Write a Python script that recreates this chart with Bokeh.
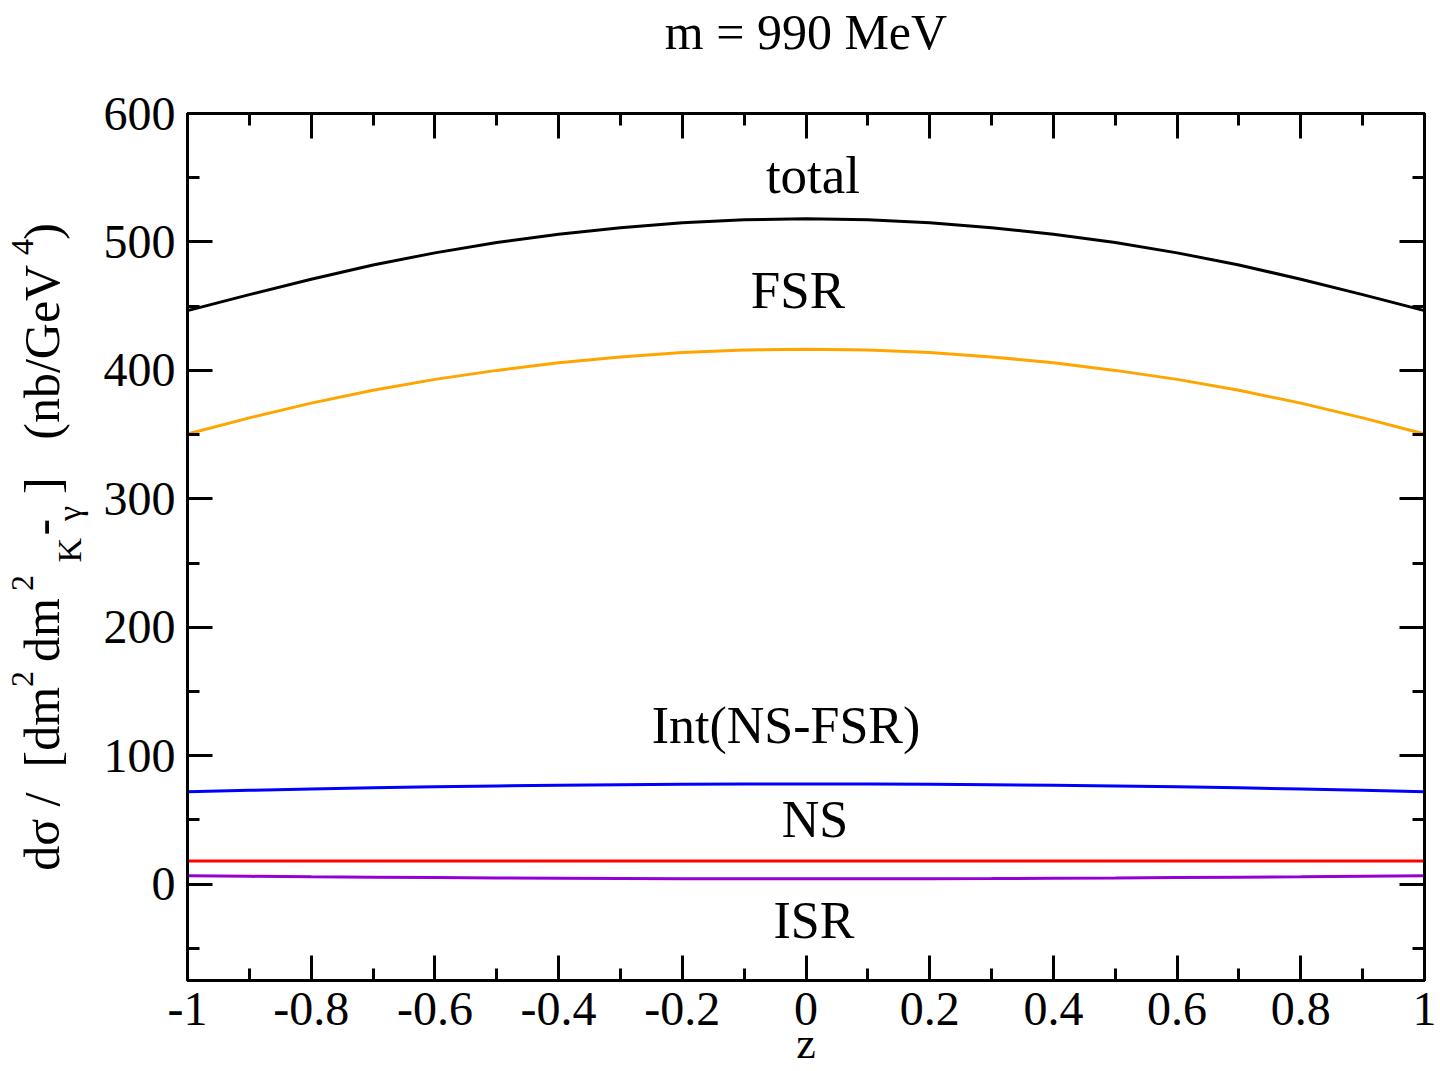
from bokeh.plotting import figure
from bokeh.models import (ColumnDataSource, Range1d, LinearAxis, FixedTicker,
                          CustomJSTickFormatter, Label)
from bokeh.embed import file_html
from bokeh.resources import INLINE

# --- data: differential cross section vs z, m = 990 MeV ---
z = [-1.0, -0.9, -0.8, -0.7, -0.6, -0.5, -0.4, -0.3, -0.2, -0.1, 0.0,
     0.1, 0.2, 0.3, 0.4, 0.5, 0.6, 0.7, 0.8, 0.9, 1.0]
total = [446.5, 459.0, 471.0, 482.0, 491.5, 499.5, 506.0, 511.0, 515.0, 517.3, 518.0,
         517.3, 515.0, 511.0, 506.0, 499.5, 491.5, 482.0, 471.0, 459.0, 446.5]
fsr = [350.5, 363.0, 374.5, 384.5, 393.0, 400.0, 406.0, 410.5, 414.0, 415.8, 416.5,
       415.8, 414.0, 410.5, 406.0, 400.0, 393.0, 384.5, 374.5, 363.0, 350.5]
interference = [72.0, 73.1, 74.1, 75.0, 75.8, 76.5, 77.0, 77.4, 77.7, 77.9, 78.0,
                77.9, 77.7, 77.4, 77.0, 76.5, 75.8, 75.0, 74.1, 73.1, 72.0]
ns = [18.0] * 21
isr = [6.5, 6.1, 5.7, 5.4, 5.1, 4.8, 4.6, 4.4, 4.3, 4.2, 4.2,
       4.2, 4.3, 4.4, 4.6, 4.8, 5.1, 5.4, 5.7, 6.1, 6.5]

x_major = [-1.0, -0.8, -0.6, -0.4, -0.2, 0.0, 0.2, 0.4, 0.6, 0.8, 1.0]
x_minor = [-0.9, -0.7, -0.5, -0.3, -0.1, 0.1, 0.3, 0.5, 0.7, 0.9]
y_major = [0, 100, 200, 300, 400, 500, 600]
y_minor = [-50, 50, 150, 250, 350, 450, 550]

FONT = "Liberation Serif"
W, H = 1440, 1071
LEFT, RIGHT, TOP, BOTTOM = 186, 1424, 113, 980
X0, X1, Y0, Y1 = -1.0, 1.0, -75.0, 600.0
SHIFT = 18  # baseline correction for in-frame Label text

p = figure(width=W, height=H, output_backend="svg", toolbar_location=None,
           x_range=Range1d(X0, X1), y_range=Range1d(Y0, Y1),
           x_axis_location=None, y_axis_location=None,
           min_border_left=LEFT, min_border_right=W - RIGHT,
           min_border_top=TOP, min_border_bottom=H - BOTTOM)
p.xgrid.visible = False
p.ygrid.visible = False
p.outline_line_color = "black"
p.outline_line_width = 3
p.background_fill_color = "white"
p.border_fill_color = "white"
p.title.text = ""

x_fmt = CustomJSTickFormatter(code="""
    if (Math.abs(tick) < 1e-9) return "0";
    return tick.toFixed(1).replace(/\\.0$/, "");
""")
y_fmt = CustomJSTickFormatter(code="return tick.toFixed(0);")
blank = CustomJSTickFormatter(code="return '';")


def make_axis(ticker, fmt, show_labels):
    ax = LinearAxis(ticker=ticker, formatter=fmt)
    ax.axis_line_width = 3
    ax.major_tick_line_width = 3
    ax.minor_tick_line_width = 3
    ax.major_tick_in = 25
    ax.major_tick_out = 0
    ax.minor_tick_in = 12
    ax.minor_tick_out = 0
    ax.major_label_text_font = FONT
    ax.major_label_text_font_size = "48px" if show_labels else "0px"
    ax.major_label_text_color = "black"
    ax.major_label_standoff = 12 if show_labels else 0
    ax.axis_label_text_font = FONT
    ax.axis_label_text_font_style = "normal"
    ax.axis_label_text_color = "black"
    return ax


def label_row(text, size, standoff):
    # tickless left axis that only carries one row of the y label
    ax = LinearAxis(ticker=FixedTicker(ticks=[]), formatter=blank)
    ax.axis_line_color = None
    ax.major_tick_line_color = None
    ax.minor_tick_line_color = None
    ax.major_tick_in = ax.major_tick_out = 0
    ax.minor_tick_in = ax.minor_tick_out = 0
    ax.major_label_text_font_size = "0px"
    ax.major_label_standoff = 0
    ax.axis_label = text
    ax.axis_label_text_font = FONT
    ax.axis_label_text_font_style = "normal"
    ax.axis_label_text_font_size = f"{size}px"
    ax.axis_label_text_color = "black"
    ax.axis_label_standoff = standoff
    return ax


# advance widths (em) used to space the pieces of the y label
ADV = {"d": .5, "\u03c3": .55, " ": .25, "/": .278, "[": .333, "]": .333, "m": .778,
       "(": .333, ")": .333, "n": .5, "b": .5, "G": .722, "e": .444, "V": .722,
       "2": .5, "4": .5, "K": .722, "-": .333, "\u03b3": .45}
SPAN = 647  # length of the y label along the axis, px


def spaced(pieces, size):
    out, cur, nb = "", 0.0, 0.25 * size
    for s, u in pieces:
        n = max(0, round((u - cur) / nb))
        out += "\u00a0" * n
        cur += n * nb
        out += s
        cur += sum(ADV.get(c, .5) for c in s) * size
    out += "\u00a0" * max(0, round((SPAN - cur) / nb))
    return out


main_row = spaced([("d\u03c3", 0), ("/", 64), ("[dm", 107), ("dm", 210), ("-", 337),
                   ("]", 383), ("(nb/GeV", 430), (")", 633)], 50)
sup_row = spaced([("2", 187), ("2", 283), ("4", 614)], 32)
sub_row = spaced([("K", 303), ("\u03b3", 346)], 34)

xt = FixedTicker(ticks=x_major, minor_ticks=x_minor)
yt = FixedTicker(ticks=y_major, minor_ticks=y_minor)

xb = make_axis(xt, x_fmt, True)
xb.axis_label = "z"
xb.axis_label_text_font_size = "44px"
xb.axis_label_standoff = -9
p.add_layout(xb, "below")

xa = make_axis(xt, blank, False)
xa.axis_label = "m = 990 MeV"
xa.axis_label_text_font_size = "50px"
xa.axis_label_standoff = 54
p.add_layout(xa, "above")

yl = make_axis(yt, y_fmt, True)
yl.axis_label = sub_row
yl.axis_label_text_font_size = "34px"
yl.axis_label_standoff = 13
p.add_layout(yl, "left")
p.add_layout(label_row(main_row, 50, -22), "left")
p.add_layout(label_row(sup_row, 32, -29), "left")
p.add_layout(make_axis(yt, blank, False), "right")

src = ColumnDataSource(dict(z=z, total=total, fsr=fsr, it=interference, ns=ns, isr=isr))
p.line("z", "total", source=src, line_color="black", line_width=3)
p.line("z", "fsr", source=src, line_color="#FFA500", line_width=3)
p.line("z", "it", source=src, line_color="#0000FF", line_width=3)
p.line("z", "ns", source=src, line_color="#FF0000", line_width=3)
p.line("z", "isr", source=src, line_color="#9400D3", line_width=3)


def dx(px):
    return X0 + (px - LEFT) * (X1 - X0) / (RIGHT - LEFT)


def dy(py):
    return Y1 - (py - TOP) * (Y1 - Y0) / (BOTTOM - TOP)


def text(s, px, py, size):
    p.add_layout(Label(x=dx(px), y=dy(py - SHIFT), text=s, text_font=FONT,
                       text_font_size=f"{size}px", text_color="black",
                       text_align="center", text_baseline="alphabetic"))


# curve names
text("total", 812, 192, 53)
text("FSR", 797, 307, 53)
text("Int(NS-FSR)", 785, 743, 52)
text("NS", 814, 837, 52)
text("ISR", 813, 938, 52)

open("out.html", "w").write(file_html(p, INLINE))
